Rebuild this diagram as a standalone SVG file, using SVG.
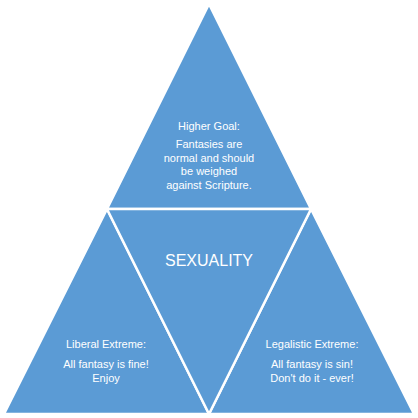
<svg xmlns="http://www.w3.org/2000/svg" width="418" height="418" viewBox="0 0 418 418">
<style>
.tri{fill:#5B9BD5;stroke:#FFFFFF;stroke-width:2.5;stroke-linejoin:miter}
.t{font-family:"Liberation Sans",Arial,sans-serif;font-size:11px;fill:#FFFFFF;text-anchor:middle}
.big{font-family:"Liberation Sans",Arial,sans-serif;font-size:16px;fill:#FFFFFF;text-anchor:middle}
</style>
<rect width="418" height="418" fill="#FFFFFF"/>
<g id="top">
<polygon class="tri" points="209,4 311,209 107,209"/>
<text class="t" x="209" y="130">Higher Goal:</text>
<text class="t" x="209" y="148">Fantasies are</text>
<text class="t" x="209" y="162">normal and should</text>
<text class="t" x="209" y="175">be weighed</text>
<text class="t" x="209" y="189">against Scripture.</text>
</g>
<g id="left">
<polygon class="tri" points="107,209 209,414 4,414"/>
<text class="t" x="106" y="348">Liberal Extreme:</text>
<text class="t" x="106" y="368">All fantasy is fine!</text>
<text class="t" x="106" y="382">Enjoy</text>
</g>
<g id="right">
<polygon class="tri" points="311,209 414,414 209,414"/>
<text class="t" x="312" y="348">Legalistic Extreme:</text>
<text class="t" x="312" y="368">All fantasy is sin!</text>
<text class="t" x="312" y="382">Don't do it - ever!</text>
</g>
<g id="center">
<polygon class="tri" points="107,209 311,209 209,414"/>
<text class="big" x="209" y="266">SEXUALITY</text>
</g>
<g id="connectors"></g>
</svg>
